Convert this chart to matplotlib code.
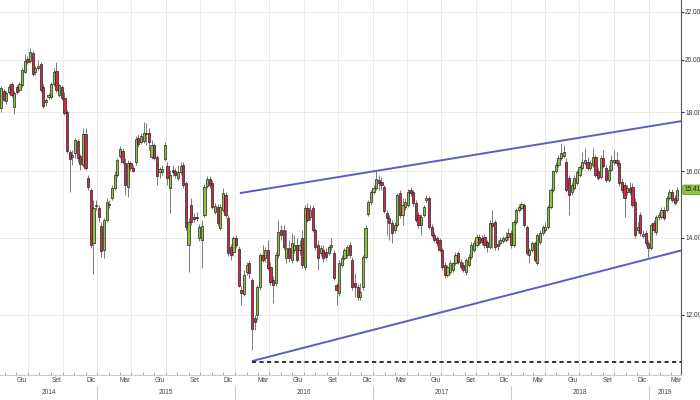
import matplotlib
matplotlib.use('Agg')
import matplotlib.pyplot as plt
import matplotlib.dates as mdates
import matplotlib.ticker as mticker
from matplotlib import font_manager
import pandas as pd
import numpy as np

# ---- weekly OHLC ----
open_ = [18.15,18.77,18.40,18.74,19.04,18.19,18.92,18.81,19.00,19.50,20.02,19.94,20.26,19.50,19.66,19.82,18.92,18.37,18.55,18.55,
         19.04,19.54,18.63,18.92,18.51,18.01,16.62,16.46,16.58,16.99,16.49,16.19,17.23,15.77,15.40,13.86,14.92,14.86,14.33,13.66,
         14.51,14.95,15.16,15.47,15.87,16.49,16.65,16.26,15.50,16.26,16.10,16.29,17.09,16.95,16.99,17.23,17.26,16.46,16.85,16.46,
         15.97,15.97,16.39,16.16,15.47,16.03,16.00,15.77,15.97,16.19,15.62,13.80,14.95,14.59,14.59,14.00,13.94,14.65,15.53,15.74,
         15.62,14.74,14.89,14.28,14.80,15.25,14.57,13.74,13.61,14.00,13.69,12.61,12.51,13.08,13.31,12.87,11.93,12.00,12.69,13.53,
         13.45,13.66,13.21,12.87,12.79,13.53,14.22,14.22,13.45,13.72,13.39,13.66,13.80,13.66,14.00,13.21,14.86,14.59,14.86,14.22,
         13.80,13.58,13.66,13.61,13.58,13.75,13.58,12.74,12.54,13.26,13.45,13.53,13.80,13.39,12.79,12.69,12.44,12.69,13.48,14.68,
         15.04,15.34,15.47,15.71,15.65,15.50,14.71,14.57,14.42,14.22,14.36,15.31,14.65,14.89,14.95,15.40,15.34,15.01,14.65,14.36,
         14.65,15.10,15.16,14.30,14.08,14.00,13.94,13.66,13.26,13.00,13.08,13.13,13.31,13.58,13.34,13.26,13.08,13.26,13.48,13.66,
         13.80,14.03,14.00,14.03,13.88,13.75,14.42,14.45,13.83,13.86,13.91,13.94,14.03,14.14,13.80,14.45,14.80,14.86,14.95,14.30,
         13.53,13.66,13.86,13.31,13.88,14.14,14.22,14.30,14.89,15.40,16.00,16.19,16.42,16.49,16.29,15.77,15.34,15.47,15.62,15.87,
         16.10,16.26,16.29,16.10,16.19,16.46,16.00,15.81,16.42,16.10,15.71,16.03,16.29,16.36,16.26,15.65,15.56,15.34,15.47,15.50,
         15.04,14.22,14.65,14.05,14.14,13.86,13.72,14.42,14.16,14.59,14.59,14.80,14.80,15.16,15.34,15.16,15.10]
high = [18.96,18.85,18.77,19.04,19.12,18.77,19.00,19.12,19.66,20.22,20.14,20.46,20.34,19.74,19.98,19.90,19.04,18.51,18.70,19.12,
        19.66,19.90,19.04,19.00,18.74,18.08,16.69,16.69,17.09,17.05,16.55,17.44,17.44,15.87,15.47,15.10,15.10,14.95,14.45,14.57,
        15.16,15.10,15.56,16.00,16.42,16.82,16.75,16.42,16.36,16.32,16.19,17.16,17.23,17.26,17.65,17.61,17.44,17.02,16.92,16.52,
        16.13,16.19,16.95,16.29,16.03,16.19,16.10,16.19,16.29,16.29,15.68,14.57,15.16,14.71,14.74,14.39,14.51,15.59,15.84,15.84,
        15.71,15.01,14.98,14.98,15.47,15.34,14.65,13.83,14.05,14.08,13.77,12.71,13.13,13.34,13.39,12.92,12.00,12.74,13.58,13.80,
        13.74,13.94,13.34,12.97,13.61,14.51,14.36,14.36,14.22,13.94,14.14,14.08,14.00,13.94,14.22,14.95,15.01,14.95,14.95,14.28,
        13.94,13.80,13.80,13.72,13.80,14.00,13.66,12.79,13.39,13.53,13.72,13.80,13.88,13.48,13.05,12.77,12.79,13.53,14.36,15.10,
        15.40,15.56,16.00,15.87,15.81,15.56,14.80,14.65,14.51,14.45,15.31,15.40,15.16,15.16,15.44,15.50,15.40,15.10,14.74,14.68,
        14.95,15.25,15.22,14.39,14.16,14.05,14.00,13.72,13.34,13.26,13.39,13.34,13.61,13.64,13.42,13.34,13.45,13.56,13.88,13.94,
        14.11,14.11,14.08,14.11,13.94,14.51,14.80,14.51,13.94,14.03,14.05,14.16,14.28,14.22,14.51,14.86,14.98,15.04,15.01,14.36,
        13.72,13.91,13.91,14.14,14.22,14.36,14.45,14.95,15.47,16.03,16.29,16.52,16.92,16.85,16.42,15.87,15.65,15.87,16.03,16.19,
        16.62,16.75,16.46,16.36,16.75,16.52,16.10,16.52,16.69,16.19,16.19,16.52,16.69,16.62,16.36,15.77,15.65,15.56,15.65,15.62,
        15.16,14.45,14.74,14.22,14.22,13.94,14.42,14.51,14.65,14.74,14.89,14.89,15.22,15.44,15.44,15.25,15.50]
low = [18.01,18.41,18.29,18.66,18.55,17.94,18.66,18.74,18.92,19.46,19.82,19.86,19.35,19.39,19.58,18.74,18.15,18.22,18.48,18.48,
       18.96,18.74,18.55,18.44,17.90,16.58,15.34,16.19,16.42,16.29,16.03,16.13,16.03,15.40,13.72,13.03,14.80,14.45,13.48,13.45,
       14.45,14.86,15.10,15.40,15.81,16.42,16.23,15.25,15.19,16.00,15.97,16.19,16.78,16.88,16.92,16.85,16.69,16.39,16.36,15.56,
       15.77,15.87,16.32,15.56,14.71,15.84,15.77,15.71,15.87,15.47,14.22,13.08,14.36,14.45,14.48,13.91,13.18,14.59,15.47,15.47,
       14.83,14.68,14.33,14.22,14.74,14.57,13.50,13.39,13.50,13.72,12.69,12.24,12.46,13.00,12.92,11.19,11.64,11.88,12.61,13.34,
       13.34,13.13,12.74,12.29,12.71,13.45,13.94,13.66,13.31,13.34,13.31,13.58,13.34,13.53,13.18,13.13,14.45,14.51,14.16,13.66,
       13.13,13.50,13.34,13.39,13.53,13.66,12.87,12.24,12.46,13.21,13.39,13.45,13.45,12.61,12.44,12.36,12.36,12.61,13.42,14.62,
       14.95,15.28,15.40,15.40,15.40,14.71,14.08,13.94,13.86,14.14,14.30,14.57,14.36,14.80,14.89,15.22,14.92,14.45,14.28,14.08,
       14.59,15.01,14.25,14.03,13.88,13.77,13.61,13.13,12.92,12.95,13.03,13.08,13.26,13.29,13.16,13.08,13.00,13.21,13.42,13.61,
       13.75,13.80,13.80,13.72,13.61,13.69,13.72,13.66,13.66,13.80,13.86,13.88,13.94,13.72,13.75,14.39,14.74,14.80,14.30,13.53,
       13.31,13.61,13.34,13.26,13.83,14.08,14.16,14.25,14.83,15.34,15.94,16.13,16.36,16.42,15.34,14.65,15.25,15.40,15.56,15.81,
       16.03,16.19,16.03,16.03,16.13,15.81,15.71,15.74,16.10,15.65,15.65,16.00,16.19,16.16,15.53,15.31,14.59,15.25,15.25,14.89,
       14.00,14.14,14.05,14.00,13.77,13.48,13.66,14.14,14.08,14.51,14.54,14.51,14.74,15.10,15.04,14.95,15.04]
close = [18.88,18.44,18.70,18.92,18.63,18.70,18.74,19.04,19.58,19.94,19.90,20.30,19.43,19.66,19.74,18.81,18.22,18.44,18.63,19.04,
         19.50,18.81,19.00,18.51,17.97,16.65,16.39,16.52,17.02,16.42,16.23,17.23,16.10,15.50,13.80,14.86,14.95,14.59,13.64,14.51,
         15.04,14.98,15.47,15.87,16.36,16.72,16.29,15.56,16.26,16.10,16.00,17.05,16.88,17.16,17.26,17.26,16.95,16.85,16.42,15.84,
         16.06,16.06,16.85,15.77,15.87,15.97,15.87,15.97,16.16,15.56,14.30,14.45,14.45,14.54,14.57,14.30,14.33,15.50,15.74,15.56,
         14.89,14.92,14.42,14.89,15.31,14.65,13.58,13.53,14.00,13.80,12.71,12.54,13.00,13.26,13.05,11.66,11.83,12.69,13.53,13.39,
         13.66,13.18,12.82,12.74,13.53,14.16,14.08,13.75,13.72,13.45,13.86,13.80,13.39,13.80,13.26,14.86,14.51,14.80,14.22,13.75,
         13.45,13.72,13.45,13.48,13.75,13.80,12.92,12.61,13.31,13.45,13.66,13.75,13.53,12.69,12.69,12.44,12.56,13.48,14.28,15.04,
         15.34,15.47,15.74,15.62,15.56,14.77,14.57,14.42,14.14,14.36,15.25,14.65,14.95,15.04,15.34,15.31,15.01,14.51,14.36,14.59,
         14.89,15.16,14.30,14.08,13.94,13.86,13.66,13.21,13.00,13.21,13.31,13.31,13.53,13.34,13.21,13.13,13.39,13.48,13.80,13.86,
         14.03,13.86,13.88,13.80,13.75,14.42,14.33,13.75,13.77,13.94,14.00,14.03,14.14,13.80,14.45,14.80,14.89,14.98,14.36,13.58,
         13.66,13.86,13.39,14.08,14.14,14.30,14.30,14.89,15.40,16.00,16.19,16.42,16.58,16.62,15.40,15.25,15.56,15.77,15.97,16.13,
         16.29,16.36,16.10,16.26,16.46,15.87,15.77,16.42,16.16,15.71,16.03,16.36,16.36,16.26,15.62,15.40,15.16,15.47,15.34,14.95,
         14.08,14.30,14.14,14.11,13.86,13.72,14.36,14.22,14.59,14.65,14.80,14.57,15.16,15.34,15.10,15.01,15.41]

first_week = '2014-04-21'
y_ticks = [12, 14, 16, 18, 20, 22]
quarter_labels = {3: 'Mar', 6: 'Giu', 9: 'Set', 12: 'Dic'}
years = [2014, 2015, 2016, 2017, 2018, 2019]
last_price = 15.41

upper_trend = [('2016-01-14', 15.31), ('2019-03-28', 17.68)]
lower_trend = [('2016-02-15', 10.94), ('2019-03-28', 13.65)]
support_level = 10.93

GREEN = '#8dc43e'
RED = '#d6294a'
LINE = '#5c5cc8'

# narrow font if available
available = {f.name for f in font_manager.fontManager.ttflist}
if 'Liberation Sans Narrow' in available:
    FONT, FS = 'Liberation Sans Narrow', 5.6
elif 'DejaVu Sans Condensed' in available:
    FONT, FS = 'DejaVu Sans Condensed', 4.8
else:
    FONT, FS = 'Liberation Sans', 4.7
plt.rcParams['font.family'] = [FONT, 'DejaVu Sans']

dates = pd.date_range(first_week, periods=len(close), freq='7D')
xd = mdates.date2num(dates)

fig = plt.figure(figsize=(7, 4), dpi=100)
ax = fig.add_axes([0.0, 25/400, 681/700, 375/400])
ax.set_yscale('log')

x_left = xd[0] - 2.65
x_right = xd[0] + 1801.7
ax.set_xlim(x_left, x_right)
ax.set_ylim(10.64, 22.53)

# grid
for t in y_ticks:
    ax.axhline(t, color='#e9e9e9', lw=0.7, zorder=0)
for yr in range(2014, 2020):
    for m in (1, 4, 7, 10):
        d = mdates.date2num(pd.Timestamp(yr, m, 1))
        if x_left < d < x_right:
            ax.axvline(d, color='#ececec', lw=0.7, zorder=0)

# candles
w = 5.8
for x, o, h, l, c in zip(xd, open_, high, low, close):
    col = GREEN if c >= o else RED
    ax.vlines(x, l, h, color='#7a7a7a', lw=0.7, zorder=2)
    lo, hi = min(o, c), max(o, c)
    if hi - lo < 0.02:
        hi = lo + 0.02
    ax.add_patch(plt.Rectangle((x - w/2, lo), w, hi - lo, facecolor=col,
                               edgecolor='#222222', lw=0.5, zorder=3))

# trend lines
def seg(p):
    return [mdates.date2num(pd.Timestamp(p[0][0])), mdates.date2num(pd.Timestamp(p[1][0]))], [p[0][1], p[1][1]]
ux, uy = seg(upper_trend)
ax.plot(ux, uy, color=LINE, lw=1.4, zorder=4, solid_capstyle='butt')
lx, ly = seg(lower_trend)
ax.plot(lx, ly, color=LINE, lw=1.4, zorder=4, solid_capstyle='butt')
ax.plot([lx[0], x_right], [support_level, support_level], color='#111111', lw=1.2,
        ls=(0, (2.5, 2)), zorder=4)

# y axis on right
ax.yaxis.tick_right()
ax.yaxis.set_major_locator(mticker.FixedLocator(y_ticks))
ax.yaxis.set_minor_locator(mticker.NullLocator())
ax.yaxis.set_major_formatter(mticker.FuncFormatter(lambda v, p: f'{v:.2f}'))
ax.tick_params(axis='y', which='major', labelsize=FS, length=2, width=0.8,
               color='#333333', labelcolor='#333333', pad=1, direction='out')

for s in ('top', 'left'):
    ax.spines[s].set_visible(False)
ax.spines['right'].set_color('#555555')
ax.spines['right'].set_linewidth(0.8)
ax.spines['bottom'].set_color('#cccccc')
ax.spines['bottom'].set_linewidth(0.8)

# x axis: small month ticks, custom labels
month_ticks = [mdates.date2num(d) for d in pd.date_range('2014-05-01', '2019-03-01', freq='MS')]
ax.xaxis.set_major_locator(mticker.FixedLocator(month_ticks))
ax.xaxis.set_major_formatter(mticker.NullFormatter())
ax.tick_params(axis='x', length=2, width=0.6, color='#999999', direction='in')

trans = ax.get_xaxis_transform()
for yr in years:
    for m, lab in quarter_labels.items():
        d = mdates.date2num(pd.Timestamp(yr, m, 15))
        if x_left + 5 < d < x_right:
            ax.text(d, -0.016, lab, transform=trans, ha='center', va='center',
                    fontsize=FS, color='#444444', clip_on=False)
    a = max(mdates.date2num(pd.Timestamp(yr, 1, 1)), x_left)
    b = min(mdates.date2num(pd.Timestamp(yr + 1, 1, 1)), x_right)
    ax.text((a + b) / 2, -0.046, str(yr), transform=trans, ha='center', va='center',
            fontsize=FS, color='#444444', clip_on=False)
    if yr > 2014:
        d = mdates.date2num(pd.Timestamp(yr, 1, 1))
        ax.plot([d, d], [-0.028, -0.07], transform=trans, color='#cccccc', lw=0.8, clip_on=False)

# last price tag
ax.annotate(f'{last_price:.2f}', xy=(1.0, last_price), xycoords=('axes fraction', 'data'),
            xytext=(2.2, 0), textcoords='offset points', ha='left', va='center',
            fontsize=FS, color='#222222',
            bbox=dict(boxstyle='round,pad=0.2', fc=GREEN, ec='#6a9a2a', lw=0.6),
            annotation_clip=False, zorder=6)

fig.savefig('out.png', dpi=100, facecolor='white')
